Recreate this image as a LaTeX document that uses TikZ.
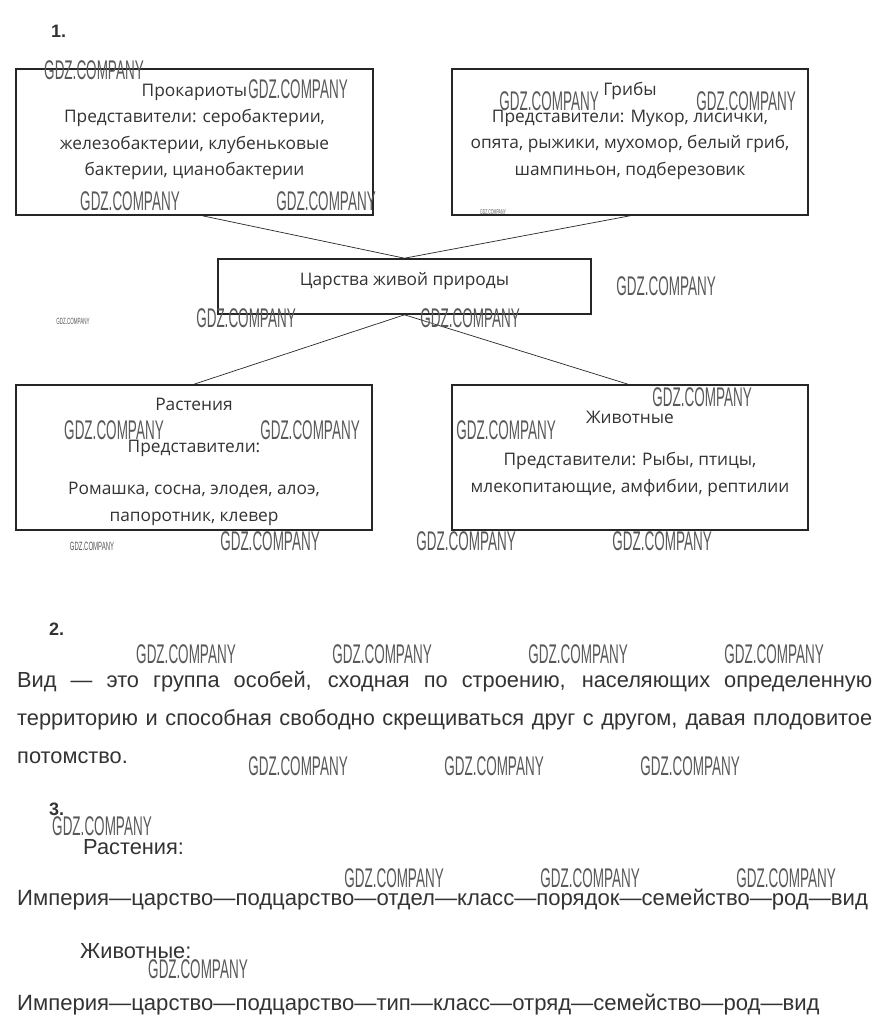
\documentclass[tikz,border=0pt]{standalone}
\usepackage{fontspec}
\setmainfont{Liberation Sans}
\newfontfamily\boxfont{Open Sans}
\newfontfamily\wmfont[FakeStretch=0.5]{Liberation Sans}
\usetikzlibrary{calc}
\definecolor{ink}{HTML}{333333}

\begin{document}
\begin{tikzpicture}[x=1pt,y=-1pt,
  box/.style={draw=black!85,line width=1.6pt,minimum width=#1,inner sep=0pt},
  txt/.style={align=center,text=ink,font=\boxfont\fontsize{17.3}{26.5}\selectfont},
  sec/.style={anchor=base west,text=ink,inner sep=0pt,font=\fontsize{21.8}{24}\selectfont},
  row/.style={sec,font=\fontsize{22.1}{24}\selectfont},
  num/.style={anchor=base west,text=ink,inner sep=0pt,font=\bfseries\fontsize{18}{20}\selectfont},
  wm/.style={text=black!65,inner sep=0pt,font=\wmfont\fontsize{#1}{#1}\selectfont},
  wm/.default=27,
  link/.style={draw=black!85,line width=0.7pt}]
\useasboundingbox[fill=white] (0,0) rectangle (884,1031);
% task 1: the kingdoms
\node[num] (n1) at (51,37) {1.};
\node[box=357pt,minimum height=146pt] (prok) at (194.5,142) {};
\node[box=356pt,minimum height=146pt] (fung) at (630,142) {};
\node[box=373pt,minimum height=55pt] (king) at (404.5,286.5) {};
\node[box=356pt,minimum height=145pt] (plan) at (194,457.5) {};
\node[box=356pt,minimum height=145pt] (anim) at (630,457.5) {};
\node[txt] (prokt) at (194.5,132) {Прокариоты\\Представители: серобактерии,\\железобактерии, клубеньковые\\бактерии, цианобактерии};
\node[txt] (fungt) at (630,131) {Грибы\\Представители: Мукор, лисички,\\опята, рыжики, мухомор, белый гриб,\\шампиньон, подберезовик};
\node[txt] (kingt) at (404.5,281) {Царства живой природы};
\node[txt] (plant) at (194,462) {Растения\\[15.5pt]Представители:\\[15.5pt]Ромашка, сосна, элодея, алоэ,\\папоротник, клевер};
\node[txt] (animt) at (630,454) {Животные\\[15.5pt]Представители: Рыбы, птицы,\\млекопитающие, амфибии, рептилии};
\draw[link] ([xshift=8pt]prok.south) -- (king.north);
\draw[link] (fung.south) -- (king.north);
\draw[link] (king.south) -- (plan.north);
\draw[link] (king.south) -- ([xshift=-2pt]anim.north);
% task 2: the species
\node[num] (n2) at (49,635) {2.};
\node[sec] (def1) at (17,687) {\makebox[855pt][s]{Вид — это группа особей, сходная по строению, населяющих определенную}};
\node[sec] (def2) at (17,725) {\makebox[855pt][s]{территорию и способная свободно скрещиваться друг с другом, давая плодовитое}};
\node[sec] (def3) at (17,763) {потомство.};
% task 3: the ranks
\node[num] (n3) at (49,815) {3.};
\node[sec] (pl) at (83,854) {Растения:};
\node[row] (plrow) at (17,905) {Империя—царство—подцарство—отдел—класс—порядок—семейство—род—вид};
\node[sec] (an) at (80,958) {Животные:};
\node[row] (anrow) at (17,1010) {Империя—царство—подцарство—тип—класс—отряд—семейство—род—вид};
% watermarks
\foreach \x/\y [count=\i] in {94/70,298/89,130/201,326/201,549/101,746/101,666/286,246/318,470/318,
  702/397,114/430,310/430,506/430,270/541,466/541,662/541,186/654,382/654,578/654,774/654,
  298/766,494/766,690/766,102/826,394/878,590/878,786/878,198/969}
  \node[wm] (wm\i) at (\x,\y) {GDZ.COMPANY};
\node[wm=7] (wms1) at (493,212) {GDZ.COMPANY};
\node[wm=9] (wms2) at (73,321) {GDZ.COMPANY};
\node[wm=12] (wms3) at (92,546) {GDZ.COMPANY};
\end{tikzpicture}
\end{document}
